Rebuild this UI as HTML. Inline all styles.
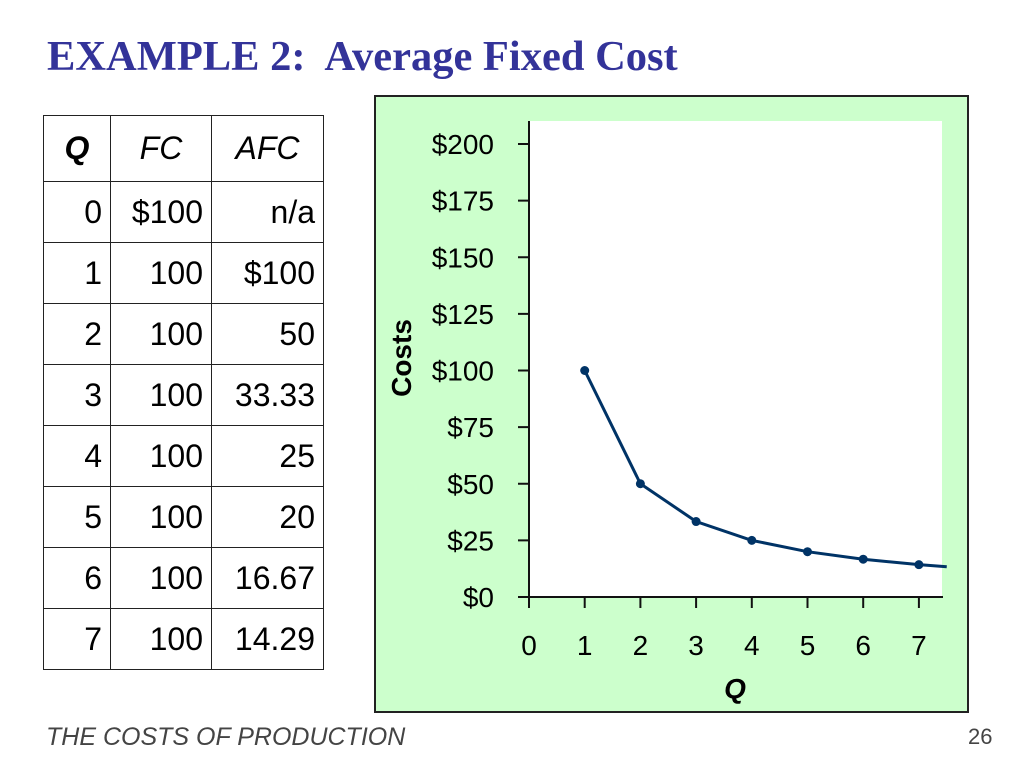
<!DOCTYPE html>
<html><head><meta charset="utf-8"><style>
body{margin:0;width:1024px;height:768px;background:#fff;position:relative;overflow:hidden;font-family:"Liberation Sans",sans-serif}
#title{position:absolute;left:47px;top:32px;font-family:"Liberation Serif",serif;font-weight:bold;font-size:42.5px;color:#333399;white-space:nowrap}
table{position:absolute;left:43px;top:115px;border-collapse:collapse;font-size:32px;table-layout:fixed;width:280px}
td{border:1.5px solid #222;height:61px;padding:0 8px;text-align:right;box-sizing:border-box}
th{border:1.5px solid #222;height:66px;font-weight:normal;font-style:italic;font-size:32px;text-align:center;box-sizing:border-box}
#footer{position:absolute;left:46px;top:723px;font-style:italic;font-size:25px;color:#444}
#page{position:absolute;left:968px;top:724px;font-size:22px;color:#444}
</style></head><body>
<div id="title">EXAMPLE 2:&nbsp; Average Fixed Cost</div>
<table>
<colgroup><col style="width:67px"><col style="width:101px"><col style="width:112px"></colgroup>
<tr><th style="font-weight:bold">Q</th><th>FC</th><th>AFC</th></tr>
<tr><td>0</td><td>$100</td><td>n/a</td></tr>
<tr><td>1</td><td>100</td><td>$100</td></tr>
<tr><td>2</td><td>100</td><td>50</td></tr>
<tr><td>3</td><td>100</td><td>33.33</td></tr>
<tr><td>4</td><td>100</td><td>25</td></tr>
<tr><td>5</td><td>100</td><td>20</td></tr>
<tr><td>6</td><td>100</td><td>16.67</td></tr>
<tr><td>7</td><td>100</td><td>14.29</td></tr>
</table>
<svg id="chart" width="1024" height="768" style="position:absolute;left:0;top:0">
<rect x="375" y="96" width="593" height="616" fill="#ccffcc" stroke="#222" stroke-width="2"/>
<rect x="530" y="121" width="412" height="476" fill="#fff"/>
<g id="g"></g>
</svg>
<div id="footer">THE COSTS OF PRODUCTION</div>
<div id="page">26</div>
<script>
const qValues=[1,2,3,4,5,6,7];
const afcValues=[100,50,33.33,25,20,16.67,14.29];
const lineEndQ=7.5, lineEndAfc=13.33;
const yTicks=[0,25,50,75,100,125,150,175,200];
const xTicks=[0,1,2,3,4,5,6,7];
const X=q=>529+q*55.7, Y=v=>597-v*(453/200);
const g=document.getElementById('g'),NS='http://www.w3.org/2000/svg';
function mk(t,a,txt){const e=document.createElementNS(NS,t);for(const k in a)e.setAttribute(k,a[k]);if(txt!==undefined)e.textContent=txt;g.appendChild(e);return e;}
let e=mk('line',{x1:529,y1:121,x2:529,y2:597,stroke:'#111','stroke-width':2});


e=mk('line',{x1:529,y1:597,x2:943,y2:597,stroke:'#111','stroke-width':2});


yTicks.forEach(v=>{
 mk('line',{x1:518,y1:Y(v),x2:529,y2:Y(v),stroke:'#111','stroke-width':2});
 e=mk('text',{x:494,y:Y(v)+10,'text-anchor':'end','font-size':28,fill:'#000'},'$'+v);
 
 
});
xTicks.forEach(q=>{
 mk('line',{x1:X(q),y1:597,x2:X(q),y2:608,stroke:'#111','stroke-width':2});
 e=mk('text',{x:X(q),y:655,'text-anchor':'middle','font-size':28,fill:'#000'},q);
 
 
});
e=mk('text',{x:735,y:698,'text-anchor':'middle','font-size':28,'font-weight':'bold','font-style':'italic'},'Q');


e=mk('text',{x:0,y:0,'text-anchor':'middle','font-size':28,'font-weight':'bold',transform:'translate(411,358) rotate(-90)'},'Costs');


const pts=qValues.map((q,i)=>X(q)+','+Y(afcValues[i]));pts.push(X(lineEndQ)+','+Y(lineEndAfc));
e=mk('polyline',{points:pts.join(' '),fill:'none',stroke:'#003366','stroke-width':3});


qValues.forEach((q,i)=>{
 e=mk('circle',{cx:X(q),cy:Y(afcValues[i]),r:4.5,fill:'#003366'});
 
 
});
</script>
</body></html>
